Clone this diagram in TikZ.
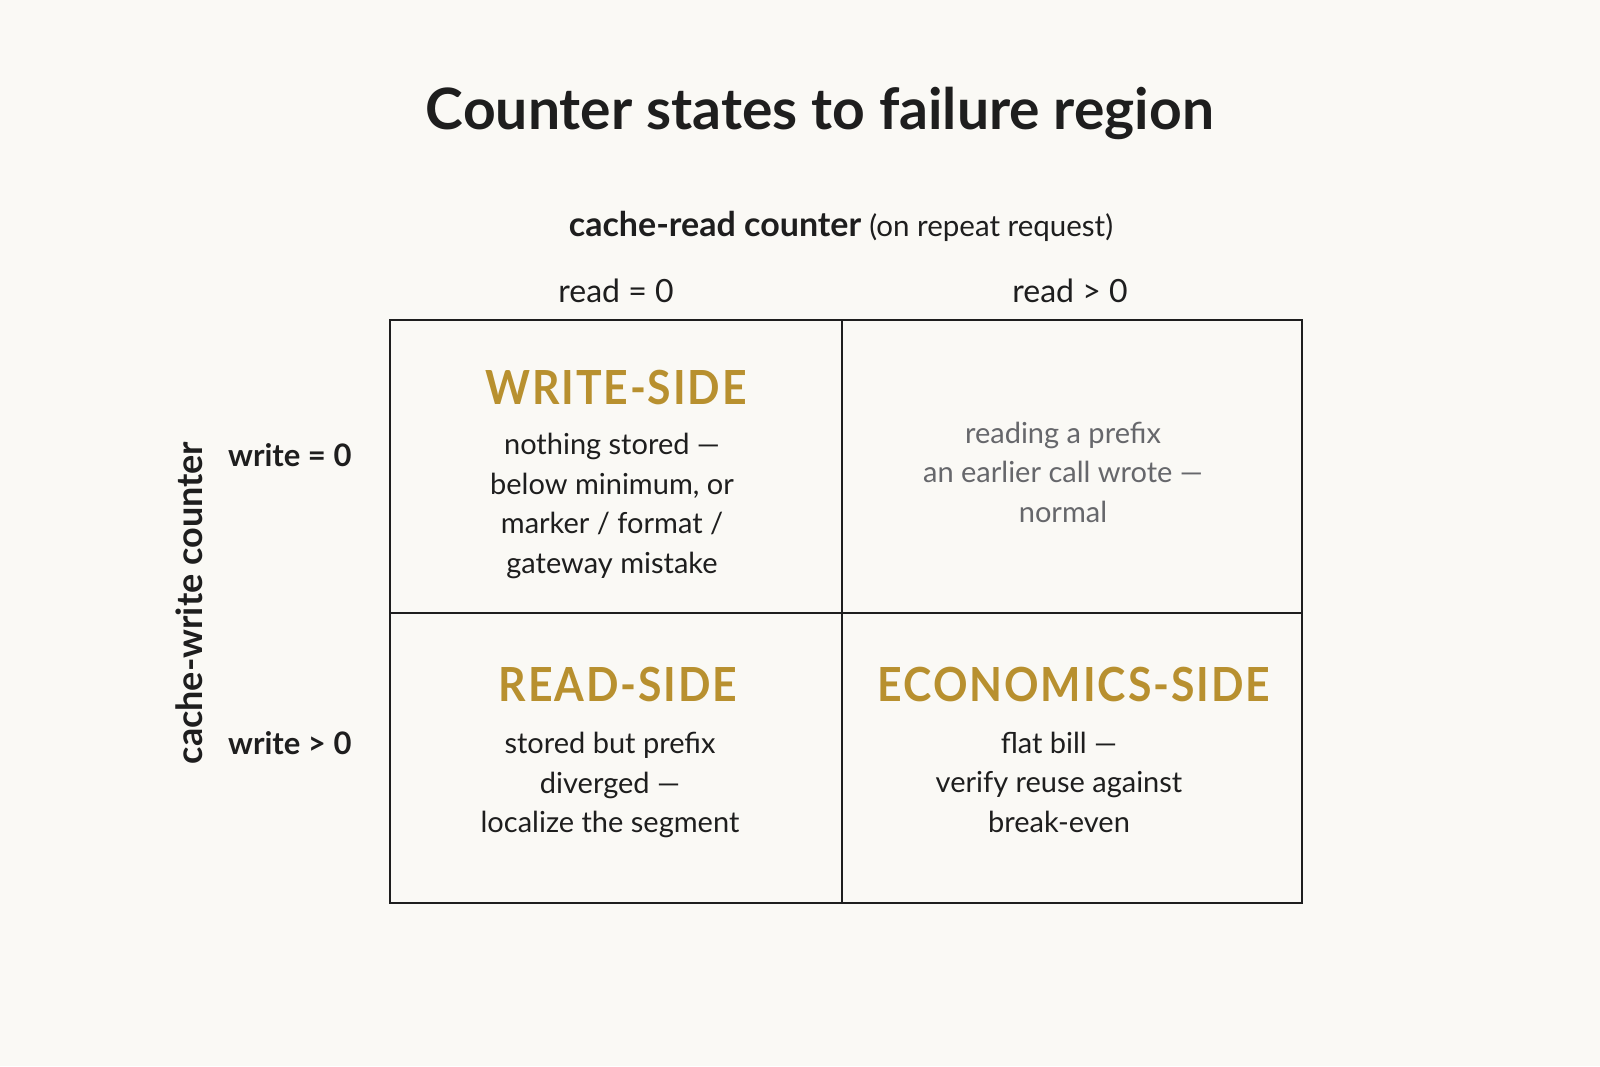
\documentclass[tikz,border=0pt]{standalone}
\usepackage{fontspec}
\setmainfont{Lato}
\newfontfamily\headfont[FakeStretch=0.91,LetterSpace=4]{Lato}
\usetikzlibrary{positioning}

\definecolor{paper}{HTML}{FAF9F5}
\definecolor{gold}{HTML}{B8902F}
\definecolor{ink}{HTML}{1E1E1E}
\definecolor{muted}{HTML}{66676B}

\tikzset{
  cellbox/.style={draw=ink, line width=2pt, inner sep=0pt, outer sep=0pt},
  sidehead/.style={text=gold, font=\headfont\bfseries\fontsize{47}{50}\selectfont},
  celltext/.style={text=ink, align=center, font=\fontsize{29}{39.5}\selectfont},
  axislabel/.style={text=ink, font=\bfseries\fontsize{34}{40}\selectfont},
  ticklabel/.style={text=ink, font=\fontsize{32}{38}\selectfont}
}

\begin{document}
\begin{tikzpicture}[x=1pt, y=-1pt]

        % page
        \fill[paper] (0,0) rectangle (1600,1066);
        \useasboundingbox (0,0) rectangle (1600,1066);

        \node[text=ink, font=\bfseries\fontsize{57}{64}\selectfont] (title) at (820,113)
          {Counter states to failure region};

        % axes
        \node[axislabel] (readaxis) at (841,226)
          {cache-read counter {\mdseries\fontsize{29.5}{34}\selectfont (on repeat request)}};
        \node[axislabel, font=\bfseries\fontsize{36}{40}\selectfont, rotate=90] (writeaxis) at (189,603)
          {cache-write counter};

        \node[ticklabel] (read0) at (616,291) {read = 0};
        \node[ticklabel] (read1) at (1070,291) {read > 0};
        \node[axislabel, font=\bfseries\fontsize{31}{36}\selectfont, anchor=east] (write0) at (355,455) {write = 0};
        \node[axislabel, font=\bfseries\fontsize{31}{36}\selectfont, anchor=east] (write1) at (355,743) {write > 0};

        % the four cells
        \begin{scope}[every node/.style={cellbox}]
          \node[minimum width=452pt, minimum height=293pt] (ws) at (616,466.5) {};
          \node[minimum width=460pt, minimum height=293pt] (ok) at (1072,466.5) {};
          \node[minimum width=452pt, minimum height=290pt] (rs) at (616,758) {};
          \node[minimum width=460pt, minimum height=290pt] (es) at (1072,758) {};
        \end{scope}

        \node[sidehead] (wshead) at (616,388) {WRITE-SIDE};
        \node[celltext] (wstext) at (612,506)
          {nothing stored —\\below minimum, or\\marker / format /\\gateway mistake};

        \node[celltext, text=muted] (oktext) at (1063,472)
          {reading a prefix\\an earlier call wrote —\\normal};

        \node[sidehead] (rshead) at (618,684) {READ-SIDE};
        \node[celltext] (rstext) at (610,785)
          {stored but prefix\\diverged —\\localize the segment};

        \node[sidehead] (eshead) at (1074,684) {ECONOMICS-SIDE};
        \node[celltext] (estext) at (1059,782)
          {flat bill —\\verify reuse against\\break-even};

      \end{tikzpicture}
\end{document}
